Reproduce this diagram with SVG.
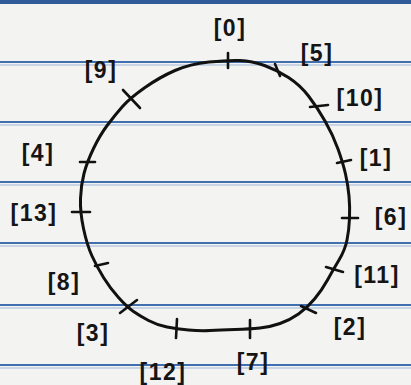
<svg xmlns="http://www.w3.org/2000/svg" width="411" height="385" viewBox="0 0 411 385">
<style>
.rule{stroke:#3f6fae;stroke-width:2;fill:none}
.rule2{stroke:#9fb6d6;stroke-width:1;fill:none}
.ring{stroke:#111;stroke-width:3;fill:none;stroke-linejoin:round}
.tick{stroke:#111;stroke-width:2.6;stroke-linecap:round}
.lbl{font-family:"Liberation Sans","DejaVu Sans",sans-serif;font-size:23px;font-weight:bold;fill:#151515;text-anchor:middle;letter-spacing:1.5px}
</style>
<rect x="0" y="0" width="411" height="385" fill="#f3f3f2"/>
<g id="paper">
<rect x="0" y="0" width="411" height="4" fill="#2f5b98"/>
<line class="rule" x1="0" y1="62" x2="411" y2="62"/>
<line class="rule2" x1="0" y1="65" x2="411" y2="65"/>
<line class="rule" x1="0" y1="122" x2="411" y2="122"/>
<line class="rule2" x1="0" y1="125" x2="411" y2="125"/>
<line class="rule" x1="0" y1="182" x2="411" y2="182"/>
<line class="rule2" x1="0" y1="185" x2="411" y2="185"/>
<line class="rule" x1="0" y1="243" x2="411" y2="243"/>
<line class="rule2" x1="0" y1="246" x2="411" y2="246"/>
<line class="rule" x1="0" y1="305" x2="411" y2="305"/>
<line class="rule2" x1="0" y1="308" x2="411" y2="308"/>
<line class="rule" x1="0" y1="365" x2="411" y2="365"/>
<line class="rule2" x1="0" y1="368" x2="411" y2="368"/>
</g>
<g id="connectors">
<path class="ring" d="M 240,60.5 Q 252,61 264.5,65.5 Q 277,70 288.5,77.5 Q 300,85 308.5,96 Q 317,107 325,121 Q 333,135 338,149 Q 343,163 345.5,174 Q 348,185 349,196 Q 350,207 349.5,218.5 Q 349,230 347,240 Q 345,250 339,260 Q 333,270 327.5,280 Q 322,290 314.5,299 Q 307,308 298.5,314 Q 290,320 280,323.5 Q 270,327 260,328 Q 250,329 235,329.5 Q 220,330 210,330.5 Q 200,331 188.5,330 Q 177,329 167,327 Q 157,325 148.5,320.5 Q 140,316 133.5,311.5 Q 127,307 118.5,297.5 Q 110,288 103.5,277.5 Q 97,267 92,256 Q 87,245 83.5,228.5 Q 80,212 80.5,198.5 Q 81,185 84,173.5 Q 87,162 93.5,148.5 Q 100,135 107.5,125 Q 115,115 122.5,106.5 Q 130,98 145,87.5 Q 160,77 175,70.5 Q 190,64 209,62 Q 228,60 240,60.5 Z"/>
</g>
<g id="n0"><line class="tick" x1="228" y1="53" x2="228" y2="68"/><text class="lbl" x="230" y="36">[0]</text></g>
<g id="n5"><line class="tick" x1="275" y1="64" x2="280" y2="76"/><text class="lbl" x="317" y="61">[5]</text></g>
<g id="n10"><line class="tick" x1="310" y1="107" x2="328" y2="105"/><text class="lbl" x="360" y="106">[10]</text></g>
<g id="n1"><line class="tick" x1="337" y1="163" x2="351" y2="160"/><text class="lbl" x="376" y="166">[1]</text></g>
<g id="n6"><line class="tick" x1="342" y1="218" x2="358" y2="218"/><text class="lbl" x="391" y="225">[6]</text></g>
<g id="n11"><line class="tick" x1="326" y1="267" x2="343" y2="272"/><text class="lbl" x="377" y="283">[11]</text></g>
<g id="n2"><line class="tick" x1="301" y1="306" x2="316" y2="313"/><text class="lbl" x="350" y="335">[2]</text></g>
<g id="n7"><line class="tick" x1="250" y1="320" x2="250" y2="338"/><text class="lbl" x="253" y="370">[7]</text></g>
<g id="n12"><line class="tick" x1="177" y1="319" x2="176" y2="338"/><text class="lbl" x="163" y="380">[12]</text></g>
<g id="n3"><line class="tick" x1="120" y1="313" x2="137" y2="300"/><text class="lbl" x="93" y="341">[3]</text></g>
<g id="n8"><line class="tick" x1="95" y1="266" x2="108" y2="263"/><text class="lbl" x="64" y="290">[8]</text></g>
<g id="n13"><line class="tick" x1="72" y1="212" x2="90" y2="212"/><text class="lbl" x="34" y="221">[13]</text></g>
<g id="n4"><line class="tick" x1="80" y1="162" x2="95" y2="162"/><text class="lbl" x="38" y="161">[4]</text></g>
<g id="n9"><line class="tick" x1="123" y1="90" x2="140" y2="108"/><text class="lbl" x="101" y="78">[9]</text></g>
</svg>
